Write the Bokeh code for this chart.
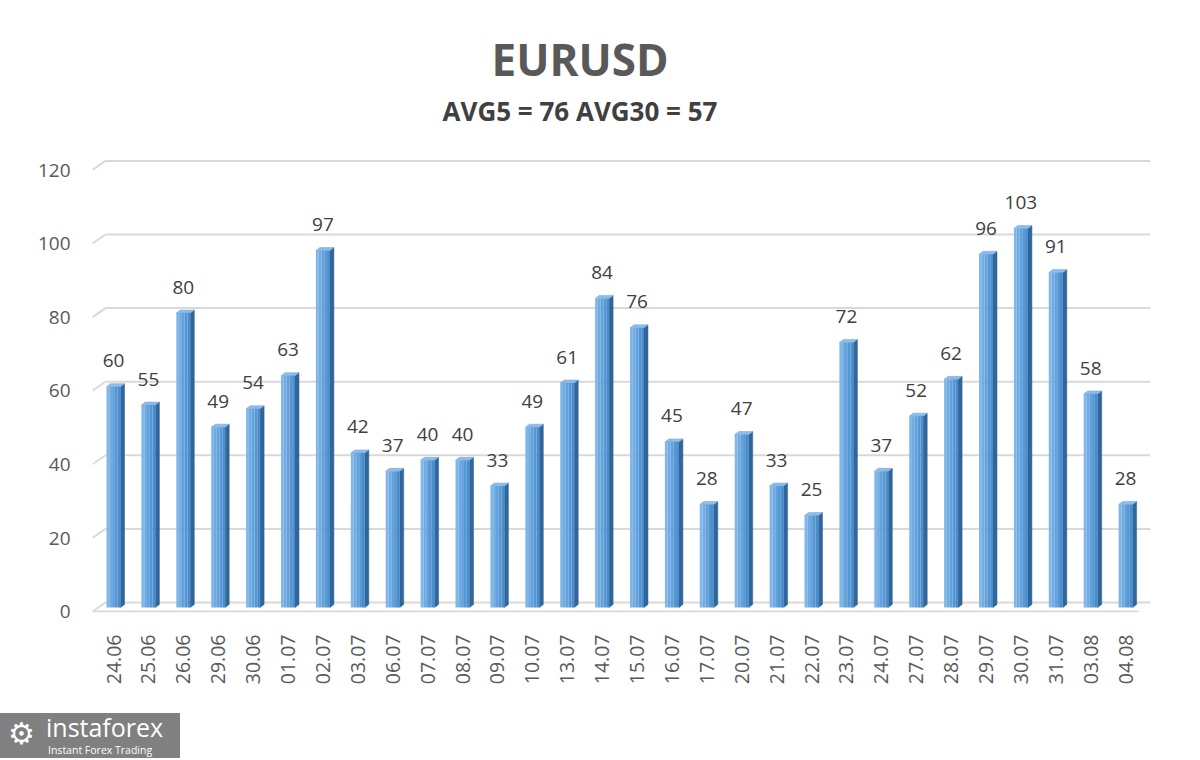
import numpy as np
from bokeh.plotting import figure
from bokeh.models import FixedTicker, ColumnDataSource, Div
from bokeh.layouts import column
from bokeh.core.properties import value
from bokeh.embed import file_html
from bokeh.resources import INLINE

# ---- data ----
dates = ["24.06", "25.06", "26.06", "29.06", "30.06", "01.07", "02.07", "03.07", "06.07", "07.07",
         "08.07", "09.07", "10.07", "13.07", "14.07", "15.07", "16.07", "17.07", "20.07", "21.07",
         "22.07", "23.07", "24.07", "27.07", "28.07", "29.07", "30.07", "31.07", "03.08", "04.08"]
values = [60, 55, 80, 49, 54, 63, 97, 42, 37, 40,
          40, 33, 49, 61, 84, 76, 45, 28, 47, 33,
          25, 72, 37, 52, 62, 96, 103, 91, 58, 28]
y_ticks = [0, 20, 40, 60, 80, 100, 120]
title_text = "EURUSD"
subtitle_text = "AVG5 = 76 AVG30 = 57"

# ---- page geometry ----
PAGE_W = 1184
TITLE_H = 130
W, H = PAGE_W, 583
LOGO_H = 45
FL, FR = 92, 1150                 # frame x edges in canvas px
FT, FB = 158 - TITLE_H, 612 - TITLE_H
PX_X = 34.9                       # px per category
PX_Y = 3.68                       # px per value unit
x0 = -21.0 / PX_X
x1 = x0 + (FR - FL) / PX_X
y0 = -10.0 / PX_Y
y1 = y0 + (FB - FT) / PX_Y

n = len(values)
idx = np.arange(n)
vals = np.array(values, dtype=float)

# ---- titles ----
title_div = Div(width=PAGE_W, height=TITLE_H, margin=0, text=(
    '<div style="position:relative;width:%dpx;height:%dpx;font-family:\'Open Sans\',sans-serif;'
    'font-weight:bold;">'
    '<div style="position:absolute;left:0;width:1160px;top:37px;text-align:center;'
    'font-size:44px;line-height:44px;color:#595959;white-space:nowrap;">%s</div>'
    '<div style="position:absolute;left:0;width:1160px;top:98px;text-align:center;'
    'font-size:26px;line-height:26px;color:#404040;white-space:nowrap;">%s</div></div>'
) % (PAGE_W, TITLE_H, title_text, subtitle_text))

p = figure(width=W, height=H, x_range=(x0, x1), y_range=(y0, y1),
           output_backend="svg", toolbar_location=None, title_location=None,
           min_border_left=FL, min_border_right=W - FR,
           min_border_top=FT, min_border_bottom=H - FB, margin=0)
p.outline_line_color = None
p.background_fill_color = "white"
p.border_fill_color = "white"
p.grid.visible = False

# ---- gridlines (back wall) with side stubs ----
stub_dx = 13.0 / PX_X
stub_dy = 9.0 / PX_Y
gy = np.array(y_ticks, dtype=float)
p.segment(x0=[x0 + stub_dx] * len(gy), y0=gy, x1=[x1] * len(gy), y1=gy,
          line_color="#d9d9d9", line_width=2)
p.segment(x0=[x0] * len(gy), y0=gy - stub_dy, x1=[x0 + stub_dx] * len(gy), y1=gy,
          line_color="#d9d9d9", line_width=2)
# floor front edge
p.segment(x0=[x0], y0=[-stub_dy], x1=[x1 - 12.0 / PX_X], y1=[-stub_dy],
          line_color="#d9d9d9", line_width=2)

# ---- 3D bars ----
front_off = 5.0 / PX_Y
bw = 14.0 / PX_X
dx = 4.0 / PX_X
dy = 3.0 / PX_Y
bot = -front_off
tops = vals - front_off

side_xs, side_ys, top_xs, top_ys = [], [], [], []
for xi, t in zip(idx, tops):
    r = xi + bw / 2
    l = xi - bw / 2
    side_xs.append([r, r + dx, r + dx, r])
    side_ys.append([bot, bot + dy, t + dy, t])
    top_xs.append([l, l + dx, r + dx, r])
    top_ys.append([t, t + dy, t + dy, t])
p.patches(side_xs, side_ys, fill_color="#2f679c", line_color="#2a5f90", line_width=0.5)
p.patches(top_xs, top_ys, fill_color="#8ebde9", line_color="#6fa3d6", line_width=0.5)

strips = ["#80b7e8", "#70ace2", "#62a1dc", "#5597d4", "#4b8ccb"]
sw = bw / len(strips)
for k, c in enumerate(strips):
    p.quad(left=idx - bw / 2 + k * sw, right=idx - bw / 2 + (k + 1) * sw,
           bottom=bot, top=tops, fill_color=c, line_color=None)

# value labels
src = ColumnDataSource(dict(x=idx, y=tops, t=[str(v) for v in values]))
p.text(x="x", y="y", text="t", source=src, text_align="center",
       text_baseline="alphabetic", y_offset=-26,
       text_font=value("Open Sans"), text_font_size="19px", text_color="#404040")

# ---- axes ----
p.xaxis.ticker = FixedTicker(ticks=list(idx))
p.xaxis.major_label_overrides = {int(i): d for i, d in zip(idx, dates)}
p.xaxis.major_label_orientation = np.pi / 2
p.xaxis.axis_line_color = None
p.xaxis.major_tick_line_color = None
p.xaxis.minor_tick_line_color = None
p.xaxis.major_tick_out = 0
p.xaxis.major_tick_in = 0
p.xaxis.major_label_standoff = 22
p.xaxis.major_label_text_font = "Open Sans"
p.xaxis.major_label_text_font_size = "19.5px"
p.xaxis.major_label_text_color = "#595959"

# y labels sit at the front edge of the side wall, 2.5 units below the back gridline
label_shift = 2.5
p.yaxis.ticker = FixedTicker(ticks=[t - label_shift for t in y_ticks])
p.yaxis.major_label_overrides = {float(t - label_shift): str(t) for t in y_ticks}
p.yaxis.axis_line_color = None
p.yaxis.major_tick_line_color = None
p.yaxis.minor_tick_line_color = None
p.yaxis.major_tick_out = 0
p.yaxis.major_tick_in = 0
p.yaxis.major_label_standoff = 22
p.yaxis.major_label_text_font = "Open Sans"
p.yaxis.major_label_text_font_size = "19px"
p.yaxis.major_label_text_color = "#595959"

# ---- watermark logo ----
logo = Div(width=180, height=LOGO_H, margin=0, text=(
    '<div style="position:relative;width:180px;height:%dpx;background:#808080;'
    'color:#ffffff;font-family:\'Open Sans\',sans-serif;">'
    '<div style="position:absolute;left:8px;top:6px;font-size:30px;line-height:30px;'
    'font-family:\'DejaVu Sans\';">&#9881;</div>'
    '<div style="position:absolute;left:46px;top:1px;font-size:25px;line-height:26px;'
    'white-space:nowrap;">instaforex</div>'
    '<div style="position:absolute;left:48px;top:31px;font-size:10.5px;line-height:12px;'
    'white-space:nowrap;">Instant Forex Trading</div></div>') % LOGO_H)

layout = column(title_div, p, logo, spacing=0)
open("out.html", "w").write(file_html(layout, INLINE))
